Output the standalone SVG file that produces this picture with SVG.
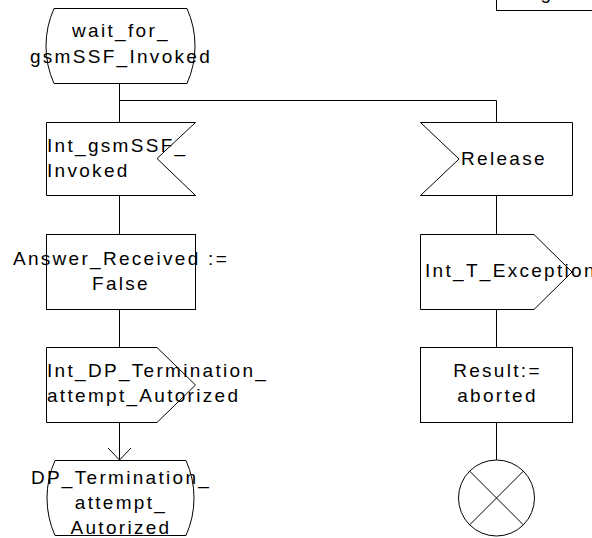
<svg xmlns="http://www.w3.org/2000/svg" width="592" height="538" viewBox="0 0 592 538">
<style>
.s{fill:#fff;stroke:#000;stroke-width:1}
.c{fill:none;stroke:#000;stroke-width:1}
text{font-family:"Liberation Sans",Arial,sans-serif;font-size:19px;letter-spacing:2.3px;fill:#000}
.m{text-anchor:middle}
</style>
<g id="page-label">
<rect x="496.5" y="-30" width="120" height="40.5" class="s"/>
<text x="547" y="-1" class="m">g</text>
</g>
<g id="connectors">
<path class="c" d="M119.5,83 V122"/>
<path class="c" d="M119.5,100.5 H496.5 V122"/>
<path class="c" d="M119.5,195 V234"/>
<path class="c" d="M119.5,309 V347"/>
<path class="c" d="M119.5,422 V460"/>
<path class="c" d="M108,448 L119.5,460 L131,448"/>
<path class="c" d="M496.5,195 V234"/>
<path class="c" d="M496.5,309 V347"/>
<path class="c" d="M496.5,422 V460"/>
</g>
<g id="wait_for_gsmSSF_Invoked">
<path class="s" d="M54,8.5 H187 A92 92 0 0 1 187,83.5 H54 A92 92 0 0 1 54,8.5 Z"/>
<text x="121" y="37" class="m">wait_for_</text>
<text x="121" y="63" class="m">gsmSSF_Invoked</text>
</g>
<g id="Int_gsmSSF_Invoked">
<path class="s" d="M46.5,122.5 H195.5 L157,158.5 L195.5,195.5 H46.5 Z"/>
<text x="47" y="152">Int_gsmSSF_</text>
<text x="47" y="177">Invoked</text>
</g>
<g id="Answer_Received">
<rect class="s" x="46.5" y="234.5" width="149" height="75"/>
<text x="121" y="265" class="m">Answer_Received :=</text>
<text x="121" y="290" class="m">False</text>
</g>
<g id="Int_DP_Termination_attempt_Autorized">
<path class="s" d="M46.5,347.5 H157 L195.5,385 L157,422.5 H46.5 Z"/>
<text x="47" y="377">Int_DP_Termination_</text>
<text x="47" y="402">attempt_Autorized</text>
</g>
<g id="DP_Termination_attempt_Autorized">
<path class="s" d="M55,460.5 H186 A92 92 0 0 1 186,535.5 H55 A92 92 0 0 1 55,460.5 Z"/>
<text x="121" y="484" class="m">DP_Termination_</text>
<text x="121" y="509" class="m">attempt_</text>
<text x="121" y="534" class="m">Autorized</text>
</g>
<g id="Release">
<path class="s" d="M420.5,122.5 H572.5 V195.5 H420.5 L459,159 Z"/>
<text x="461" y="165">Release</text>
</g>
<g id="Int_T_Exception">
<path class="s" d="M420.5,234.5 H534 L572,272 L534,309.5 H420.5 Z"/>
<text x="425" y="277">Int_T_Exception</text>
</g>
<g id="Result_aborted">
<rect class="s" x="420.5" y="347.5" width="152" height="75"/>
<text x="497.5" y="377" class="m">Result:=</text>
<text x="497.5" y="402" class="m">aborted</text>
</g>
<g id="stop">
<circle class="s" cx="496.5" cy="498" r="38"/>
<path class="c" d="M469.6,471.1 L523.4,524.9 M523.4,471.1 L469.6,524.9"/>
</g>
</svg>
